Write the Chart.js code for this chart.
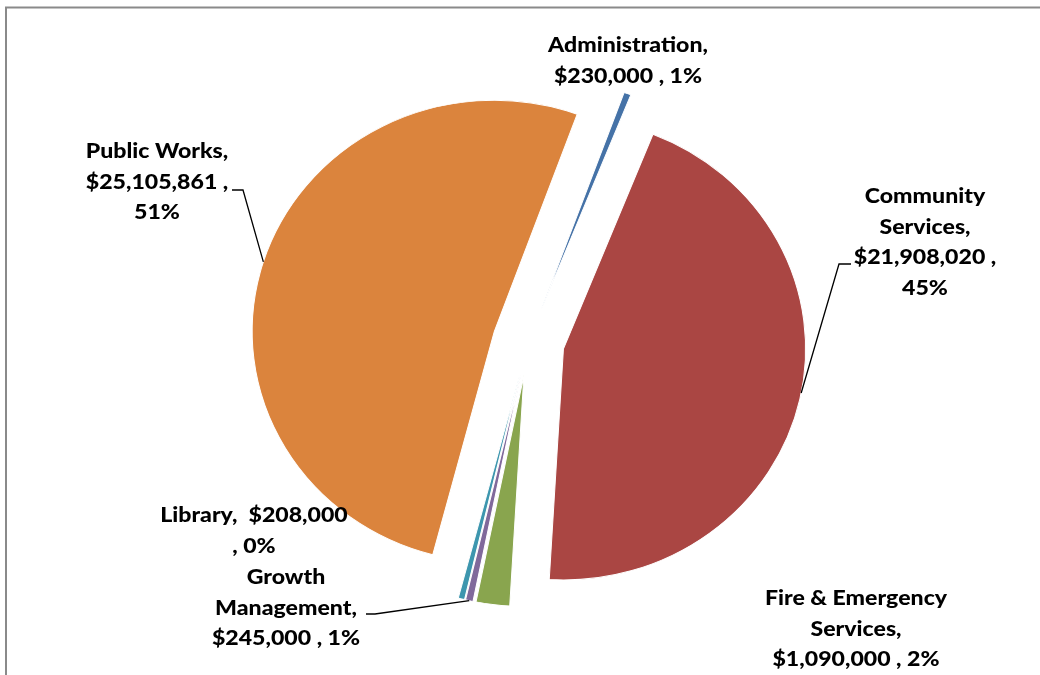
<!DOCTYPE html>
<html lang="en">
<head>
    <meta charset="UTF-8">
    <title>Budget by Department</title>
    <script src="https://cdn.jsdelivr.net/npm/chart.js"></script>
    <style>
        body {
            margin: 0;
            background: #fff;
            overflow: hidden;
        }
    </style>
</head>
<body>
    <canvas id="budgetChart" width="1040" height="675"></canvas>

    <script>
        // Budget per department
        const departments = ['Administration', 'Community Services', 'Fire & Emergency Services',
                             'Growth Management', 'Library', 'Public Works'];
        const budgets = [230000, 21908020, 1090000, 245000, 208000, 25105861];
        const percents = ['1%', '45%', '2%', '1%', '0%', '51%'];
        const sliceColors = ['#4572A7', '#AA4643', '#89A54E', '#80699B', '#3D96AE', '#DB843D'];

        const money = v => '$' + v.toLocaleString('en-US');

        // label text, wrapped line by line
        const labelLines = [
            [departments[0] + ',', money(budgets[0]) + ' , ' + percents[0]],
            ['Community', 'Services,', money(budgets[1]) + ' ,', percents[1]],
            ['Fire & Emergency', 'Services,', money(budgets[2]) + ' , ' + percents[2]],
            ['Growth', 'Management,', money(budgets[3]) + ' , ' + percents[3]],
            ['Library,  ' + money(budgets[4]), ', ' + percents[4]],
            ['Public Works,', money(budgets[5]) + ' ,', percents[5]]
        ];
        // where each label sits: centre x, first baseline y
        const labelPos = [[628, 52], [925, 203], [856, 605], [286, 584], [254, 522], [157, 158]];

        // leader lines: label-side points, then the angle (deg) where it meets the slice edge
        const leaders = [
            { index: 5, points: [[232, 190], [243, 190]], angle: 197.5 },
            { index: 1, points: [[851, 264], [839, 264]], angle: 11 },
            { index: 3, points: [[366, 614], [375, 614]], angle: null }
        ];

        const EXPLODE = 35;
        // the pie is drawn a little wider than tall
        const SX = 1.022, SY = 0.975;

        function squash(ctx, arc) {
            ctx.translate(arc.x, arc.y);
            ctx.scale(SX, SY);
            ctx.translate(-arc.x, -arc.y);
        }

        // pulls every slice out from the centre along its middle angle
        const explodePlugin = {
            id: 'explode',
            beforeDatasetsDraw(chart) {
                const ctx = chart.ctx;
                chart.getDatasetMeta(0).data.forEach(arc => {
                    const mid = (arc.startAngle + arc.endAngle) / 2;
                    ctx.save();
                    squash(ctx, arc);
                    ctx.translate(Math.cos(mid) * EXPLODE, Math.sin(mid) * EXPLODE);
                    arc.draw(ctx, chart.chartArea);
                    ctx.restore();
                });
                return false;
            }
        };

        const framePlugin = {
            id: 'frame',
            beforeDraw(chart) {
                const ctx = chart.ctx;
                ctx.save();
                ctx.strokeStyle = '#8a8a8a';
                ctx.lineWidth = 2;
                ctx.strokeRect(6, 7.5, 1100, 800);
                ctx.restore();
            }
        };

        const labelPlugin = {
            id: 'sliceLabels',
            afterDraw(chart) {
                const ctx = chart.ctx;
                const arcs = chart.getDatasetMeta(0).data;
                ctx.save();

                // leader lines
                ctx.strokeStyle = '#000';
                ctx.lineWidth = 1.3;
                leaders.forEach(l => {
                    const arc = arcs[l.index];
                    const mid = (arc.startAngle + arc.endAngle) / 2;
                    const a = l.angle === null ? mid : l.angle * Math.PI / 180;
                    const r = arc.outerRadius;
                    const px = Math.cos(mid) * EXPLODE + Math.cos(a) * r;
                    const py = Math.sin(mid) * EXPLODE + Math.sin(a) * r;
                    ctx.beginPath();
                    ctx.moveTo(l.points[0][0], l.points[0][1]);
                    for (let i = 1; i < l.points.length; i++) ctx.lineTo(l.points[i][0], l.points[i][1]);
                    ctx.lineTo(arc.x + px * SX, arc.y + py * SY);
                    ctx.stroke();
                });

                // text
                ctx.fillStyle = '#000';
                ctx.font = '900 21px Lato, sans-serif';
                ctx.textAlign = 'center';
                ctx.textBaseline = 'alphabetic';
                labelLines.forEach((lines, i) => {
                    const [x, y] = labelPos[i];
                    lines.forEach((t, j) => {
                        ctx.save();
                        ctx.translate(x, y + j * 30.5);
                        ctx.scale(1.1, 1);
                        ctx.fillText(t, 0, 0);
                        ctx.restore();
                    });
                });
                ctx.restore();
            }
        };

        new Chart(document.getElementById('budgetChart'), {
            type: 'pie',
            data: {
                labels: departments,
                datasets: [{
                    data: budgets,
                    backgroundColor: sliceColors,
                    borderColor: '#fff',
                    borderWidth: 1
                }]
            },
            options: {
                responsive: false,
                animation: false,
                rotation: 20,
                radius: 237,
                layout: { padding: { left: 17, right: 0, top: 8, bottom: 0 } },
                plugins: {
                    legend: { display: false },
                    tooltip: { enabled: false }
                }
            },
            plugins: [framePlugin, explodePlugin, labelPlugin]
        });
    </script>
</body>
</html>
